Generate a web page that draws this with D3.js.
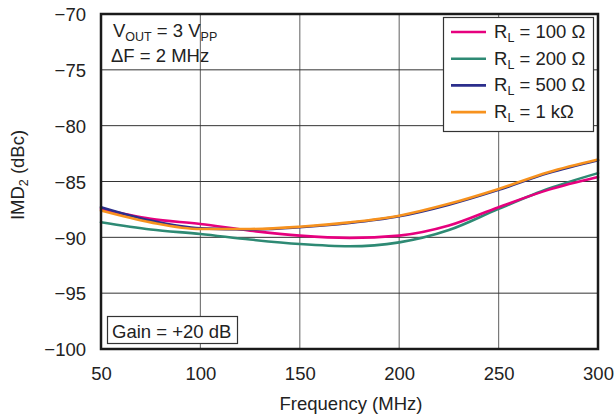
<!DOCTYPE html>
<html>
<head>
<meta charset="utf-8">
<script src="https://cdn.jsdelivr.net/npm/d3@7"></script>
<style>
  html, body { margin: 0; padding: 0; background: #fff; }
  svg { display: block; font-family: "Liberation Sans", Arial, sans-serif; }
</style>
</head>
<body>
<svg id="chart" width="615" height="417"></svg>
<script>
// Frequency points (MHz)
const freqs = [50, 75, 100, 125, 150, 175, 200, 225, 250, 275, 300];

// IMD2 (dBc) for each load resistance
const rl100 = [-87.45, -88.35, -88.8, -89.4, -89.85, -90.05, -89.85, -88.95, -87.3, -85.75, -84.6];
const rl200 = [-88.65, -89.3, -89.7, -90.2, -90.6, -90.8, -90.45, -89.35, -87.45, -85.65, -84.25];
const rl500 = [-87.3, -88.5, -89.2, -89.3, -89.1, -88.72, -88.12, -87.08, -85.75, -84.25, -83.1];
const rl1k  = [-87.6, -88.66, -89.25, -89.25, -89.05, -88.66, -88.06, -87.0, -85.67, -84.17, -83.03];

const xTicks = [50, 100, 150, 200, 250, 300];
const yTicks = [-70, -75, -80, -85, -90, -95, -100];

const seriesNames = ["100 Ω", "200 Ω", "500 Ω", "1 kΩ"];
const seriesColors = ["#e6007e", "#2e8a74", "#2b2e8c", "#f7921e"];
const seriesValues = [rl100, rl200, rl500, rl1k];

const FS = 18.5, SUB = 12.5;
const svg = d3.select("#chart");
const plotL = 101, plotR = 598, plotT = 14, plotB = 349;

const x = d3.scaleLinear().domain([50, 300]).range([plotL, plotR]);
const y = d3.scaleLinear().domain([-100, -70]).range([plotB, plotT]);

const fmt = v => String(v).replace("-", "\u2212");

// Grid
const grid = svg.append("g");
grid.selectAll("line.v").data(xTicks.slice(1, -1)).join("line")
  .attr("x1", d => x(d)).attr("x2", d => x(d))
  .attr("y1", plotT).attr("y2", plotB)
  .attr("stroke", "#7a7a7a").attr("stroke-width", 1.2);
grid.selectAll("line.h").data(yTicks.slice(1, -1)).join("line")
  .attr("x1", plotL).attr("x2", plotR)
  .attr("y1", d => y(d)).attr("y2", d => y(d))
  .attr("stroke", "#333").attr("stroke-width", 1);

// Axes (labels only; the frame is drawn separately)
const xAxis = d3.axisBottom(x).tickValues(xTicks).tickSize(0).tickPadding(0).tickFormat(d => d);
svg.append("g").attr("transform", `translate(0,${plotB})`).call(xAxis)
  .call(g => g.select(".domain").remove())
  .call(g => g.selectAll("text").attr("y", 31).attr("dy", 0)
    .attr("font-size", FS).attr("fill", "#222").attr("font-family", "Liberation Sans, Arial, sans-serif"));

const yAxis = d3.axisLeft(y).tickValues(yTicks).tickSize(0).tickPadding(0).tickFormat(fmt);
svg.append("g").attr("transform", `translate(${plotL},0)`).call(yAxis)
  .call(g => g.select(".domain").remove())
  .call(g => g.selectAll("text").attr("x", -15).attr("dy", "0.36em")
    .attr("font-size", FS).attr("fill", "#222").attr("font-family", "Liberation Sans, Arial, sans-serif"));

// Axis titles
svg.append("text").attr("x", 351).attr("y", 410)
  .attr("text-anchor", "middle").attr("font-size", FS).attr("fill", "#222")
  .text("Frequency (MHz)");

const yt = svg.append("text")
  .attr("transform", "translate(24,175) rotate(-90)")
  .attr("text-anchor", "middle").attr("font-size", FS).attr("fill", "#222");
yt.append("tspan").text("IMD");
yt.append("tspan").attr("font-size", SUB).attr("dy", 4).text("2");
yt.append("tspan").attr("dy", -4).text(" (dBc)");

// Curves
const line = d3.line().x((d, i) => x(freqs[i])).y(d => y(d)).curve(d3.curveMonotoneX);
const order = [1, 0, 2, 3];
svg.append("g").selectAll("path").data(order).join("path")
  .attr("d", i => line(seriesValues[i]))
  .attr("fill", "none")
  .attr("stroke", i => seriesColors[i])
  .attr("stroke-width", 2.6)
  .attr("stroke-linecap", "round");

// Frame
svg.append("rect").attr("x", plotL).attr("y", plotT)
  .attr("width", plotR - plotL).attr("height", plotB - plotT)
  .attr("fill", "none").attr("stroke", "#1a1a1a").attr("stroke-width", 2.5);

// Conditions
const t1 = svg.append("text").attr("x", 113).attr("y", 37).attr("font-size", FS).attr("fill", "#222");
t1.append("tspan").text("V");
t1.append("tspan").attr("font-size", SUB).attr("dy", 4).text("OUT");
t1.append("tspan").attr("dy", -4).text(" = 3 V");
t1.append("tspan").attr("font-size", SUB).attr("dy", 4).text("PP");

svg.append("text").attr("x", 111).attr("y", 62).attr("font-size", FS).attr("fill", "#222")
  .text("\u0394F = 2 MHz");

// Gain box
svg.append("rect").attr("x", 107.5).attr("y", 316.5).attr("width", 130).attr("height", 27)
  .attr("fill", "#fff").attr("stroke", "#333").attr("stroke-width", 1.2);
svg.append("text").attr("x", 112).attr("y", 337.5).attr("font-size", FS).attr("fill", "#222")
  .text("Gain = +20 dB");

// Legend
const lg = svg.append("g");
lg.append("rect").attr("x", 443.5).attr("y", 17.5).attr("width", 150).attr("height", 114)
  .attr("fill", "#fff").attr("stroke", "#333").attr("stroke-width", 1.2);
const rows = lg.selectAll("g.row").data(seriesNames).join("g")
  .attr("transform", (d, i) => `translate(0,${32 + i * 26.7})`);
rows.append("line").attr("x1", 451).attr("x2", 486).attr("y1", 0).attr("y2", 0)
  .attr("stroke", (d, i) => seriesColors[i]).attr("stroke-width", 2.6);
const lt = rows.append("text").attr("x", 494).attr("y", 6).attr("font-size", FS).attr("fill", "#222");
lt.append("tspan").text("R");
lt.append("tspan").attr("font-size", SUB).attr("dy", 4).text("L");
lt.append("tspan").attr("dy", -4).text(d => " = " + d);
</script>
</body>
</html>
